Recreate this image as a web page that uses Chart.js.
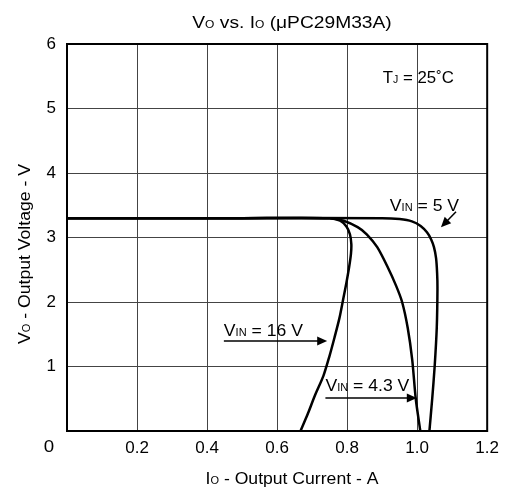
<!DOCTYPE html>
<html>
<head>
<meta charset="utf-8">
<title>Vo vs. Io (μPC29M33A)</title>
<script src="https://cdn.jsdelivr.net/npm/chart.js@4/dist/chart.umd.min.js"></script>
<style>
    html, body { margin: 0; padding: 0; background: #fff; }
    #wrap { width: 506px; height: 487px; position: relative; }
</style>
</head>
<body>
<div id="wrap"><canvas id="voChart"></canvas></div>
<script>
// =============================================
// DATA
// =============================================
const xTickValues = [0, 0.2, 0.4, 0.6, 0.8, 1.0, 1.2];
const yTickValues = [0, 1, 2, 3, 4, 5, 6];

// VIN = 16 V
const vin16Current = [0, 0.5, 0.75, 0.78, 0.798, 0.808, 0.812, 0.811, 0.806, 0.798, 0.789, 0.778, 0.764, 0.749, 0.732, 0.708, 0.688, 0.667];
const vin16Voltage = [3.3, 3.3, 3.3, 3.26, 3.17, 3.05, 2.9, 2.75, 2.55, 2.3, 2.05, 1.75, 1.45, 1.15, 0.85, 0.55, 0.27, 0];

// VIN = 4.3 V
const vin43Current = [0, 0.5, 0.75, 0.79, 0.83, 0.856, 0.886, 0.915, 0.94, 0.957, 0.973, 0.986, 0.996, 1.009];
const vin43Voltage = [3.3, 3.3, 3.3, 3.26, 3.16, 3.05, 2.85, 2.55, 2.25, 2.0, 1.6, 1.1, 0.5, 0];

// VIN = 5 V
const vin5Current = [0, 0.5, 0.9, 0.95, 0.985, 1.01, 1.028, 1.04, 1.048, 1.054, 1.057, 1.058, 1.056, 1.05, 1.043, 1.035];
const vin5Voltage = [3.3, 3.3, 3.3, 3.285, 3.25, 3.18, 3.08, 2.97, 2.85, 2.68, 2.45, 2.2, 1.6, 1.0, 0.5, 0];

const FONT = '"Liberation Sans", Arial, Helvetica, sans-serif';

function toPoints(xs, ys) {
    return xs.map((v, i) => ({ x: v, y: ys[i] }));
}

// draw text made of parts with different sizes (subscripts)
function richText(ctx, parts, x, y, align, sx) {
    sx = sx || 1;
    let total = 0;
    parts.forEach(p => {
        ctx.font = p.size + 'px ' + FONT;
        p.w = ctx.measureText(p.t).width * sx;
        total += p.w;
    });
    let cx = x;
    if (align === 'center') cx = x - total / 2;
    if (align === 'right') cx = x - total;
    parts.forEach(p => {
        ctx.font = p.size + 'px ' + FONT;
        ctx.save();
        ctx.translate(cx, y + (p.dy || 0));
        ctx.scale(sx, 1);
        ctx.fillText(p.t, 0, 0);
        ctx.restore();
        cx += p.w;
    });
}

function arrow(ctx, x0, y0, x1, y1) {
    const ang = Math.atan2(y1 - y0, x1 - x0);
    const len = 10, half = 4.5;
    ctx.beginPath();
    ctx.moveTo(x0, y0);
    ctx.lineTo(x1 - Math.cos(ang) * len * 0.8, y1 - Math.sin(ang) * len * 0.8);
    ctx.stroke();
    ctx.beginPath();
    ctx.moveTo(x1, y1);
    ctx.lineTo(x1 - Math.cos(ang) * len + Math.sin(ang) * half, y1 - Math.sin(ang) * len - Math.cos(ang) * half);
    ctx.lineTo(x1 - Math.cos(ang) * len - Math.sin(ang) * half, y1 - Math.sin(ang) * len + Math.cos(ang) * half);
    ctx.closePath();
    ctx.fill();
}

// =============================================
// TEXT, FRAME AND ARROWS
// =============================================
const sheetText = {
    id: 'sheetText',
    afterDraw(chart) {
        const { ctx, chartArea: a, scales: { x, y } } = chart;
        const px = v => x.getPixelForValue(v);
        const py = v => y.getPixelForValue(v);

        ctx.save();
        ctx.fillStyle = '#000';
        ctx.strokeStyle = '#000';
        ctx.textBaseline = 'alphabetic';
        ctx.textAlign = 'left';

        // frame
        ctx.lineWidth = 2;
        ctx.strokeRect(a.left, a.top, a.right - a.left, a.bottom - a.top);

        // title
        richText(ctx, [
            { t: 'V', size: 16 }, { t: 'O', size: 10 },
            { t: ' vs. I', size: 16 }, { t: 'O', size: 10 },
            { t: ' (\u03bcPC29M33A)', size: 16 }
        ], 292, 28, 'center', 1.2);

        // shared zero label at the corner
        richText(ctx, [{ t: '0', size: 17 }], a.left - 18, a.bottom + 21, 'center', 1.1);

        // x axis title
        richText(ctx, [
            { t: 'I', size: 16 }, { t: 'O', size: 10 },
            { t: ' - Output Current - A', size: 16 }
        ], 292, 484, 'center', 1.1);

        // y axis title
        ctx.save();
        ctx.translate(30, 254);
        ctx.rotate(-Math.PI / 2);
        richText(ctx, [
            { t: 'V', size: 16 }, { t: 'O', size: 10 },
            { t: ' - Output Voltage - V', size: 16 }
        ], 0, 0, 'center', 1.1);
        ctx.restore();

        // TJ = 25°C
        richText(ctx, [
            { t: 'T', size: 16 }, { t: 'J', size: 10 },
            { t: ' = 25\u02daC', size: 16 }
        ], px(0.902), py(5.395), 'left', 1.05);

        // VIN labels and arrows
        const vin = (val, xv, yv) => richText(ctx, [
            { t: 'V', size: 16 }, { t: 'IN', size: 10 },
            { t: ' = ' + val, size: 16 }
        ], px(xv), py(yv), 'left', 1.1);

        vin('5 V', 0.922, 3.41);
        vin('16 V', 0.448, 1.473);
        vin('4.3 V', 0.738, 0.62);

        ctx.lineWidth = 1.5;
        arrow(ctx, px(1.111), py(3.40), px(1.068), py(3.16));
        arrow(ctx, px(0.448), py(1.395), px(0.743), py(1.395));
        arrow(ctx, px(0.738), py(0.512), px(0.999), py(0.512));

        ctx.restore();
    }
};

// =============================================
// CHART
// =============================================
function curve(label, xs, ys) {
    return {
        label: label,
        data: toPoints(xs, ys),
        showLine: true,
        borderColor: '#000',
        borderWidth: 2.5,
        pointRadius: 0,
        tension: 0.25,
        fill: false
    };
}

new Chart(document.getElementById('voChart'), {
    type: 'scatter',
    data: {
        datasets: [
            curve('VIN = 16 V', vin16Current, vin16Voltage),
            curve('VIN = 4.3 V', vin43Current, vin43Voltage),
            curve('VIN = 5 V', vin5Current, vin5Voltage)
        ]
    },
    options: {
        responsive: true,
        maintainAspectRatio: false,
        animation: false,
        layout: { padding: { top: 44, right: 16, bottom: 0, left: 0 } },
        plugins: {
            legend: { display: false },
            tooltip: { enabled: false }
        },
        scales: {
            x: {
                type: 'linear',
                min: 0,
                max: 1.2,
                afterBuildTicks: s => { s.ticks = xTickValues.map(v => ({ value: v })); },
                afterFit: s => { s.height = 56; },
                grid: { color: '#444', lineWidth: 1, drawTicks: false },
                border: { display: true, color: '#000', width: 2 },
                ticks: {
                    autoSkip: false,
                    maxRotation: 0,
                    padding: 7,
                    color: '#000',
                    font: { family: FONT, size: 17 },
                    callback: v => (v === 0 ? '' : Number(v).toFixed(1))
                }
            },
            y: {
                type: 'linear',
                min: 0,
                max: 6,
                afterBuildTicks: s => { s.ticks = yTickValues.map(v => ({ value: v })); },
                afterFit: s => { s.width = 67; },
                grid: { color: '#444', lineWidth: 1, drawTicks: false },
                border: { display: true, color: '#000', width: 2 },
                ticks: {
                    autoSkip: false,
                    padding: 11,
                    color: '#000',
                    font: { family: FONT, size: 17 },
                    callback: v => (v === 0 ? '' : String(v))
                }
            }
        }
    },
    plugins: [sheetText]
});
</script>
</body>
</html>
